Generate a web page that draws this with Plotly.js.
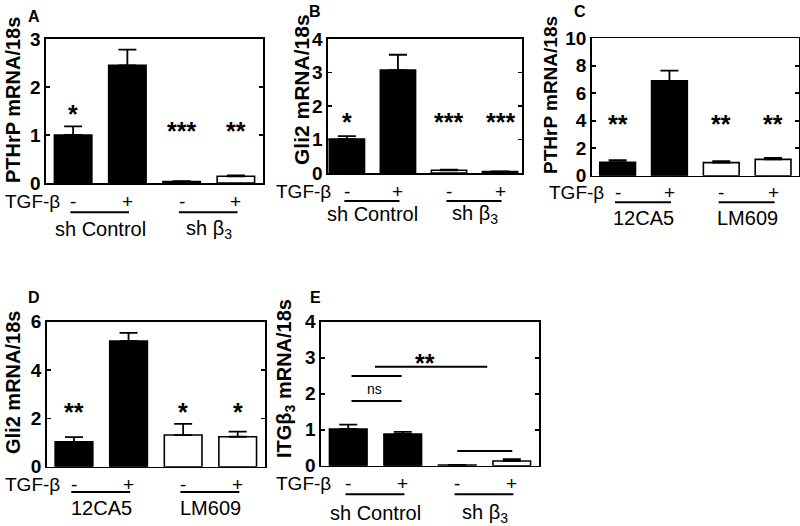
<!DOCTYPE html>
<html>
<head>
<meta charset="utf-8">
<script src="https://cdn.plot.ly/plotly-3.0.1.min.js"></script>
<style>html,body{margin:0;padding:0;background:#fff;}#chart{width:800px;height:526px;}</style>
</head>
<body>
<div id="chart"></div>
<script>
// ---------- DATA ----------
const barX = [0, 1, 2, 3];
const tgfSigns = ['-', '+', '-', '+'];

const groupsShRNA = ['sh Control', 'sh β<sub>3</sub>'];
const groupsAntibody = ['12CA5', 'LM609'];

const A_vals = [1.00, 2.45, 0.03, 0.14];
const A_err  = [0.18, 0.33, 0.01, 0.02];
const A_stars = ['*', '', '***', '**'];
const A_starY = [1.44, null, 1.09, 1.09];

const B_vals = [1.01, 3.07, 0.08, 0.04];
const B_err  = [0.09, 0.46, 0.02, 0.01];
const B_stars = ['*', '', '***', '***'];
const B_starY = [1.52, null, 1.52, 1.52];

const C_vals = [0.98, 6.90, 0.95, 1.19];
const C_err  = [0.15, 0.75, 0.10, 0.10];
const C_stars = ['**', '', '**', '**'];
const C_starY = [3.75, null, 3.75, 3.75];

const D_vals = [1.03, 5.20, 1.31, 1.24];
const D_err  = [0.19, 0.34, 0.46, 0.21];
const D_stars = ['**', '', '*', '*'];
const D_starY = [2.27, null, 2.27, 2.27];

const E_vals = [1.02, 0.88, 0.02, 0.13];
const E_err  = [0.12, 0.06, 0.005, 0.05];
// significance brackets in panel E: [x0, x1, y]
const E_brackets = [[0.06, 0.98, 2.49], [0.06, 0.98, 1.80], [0.49, 2.55, 2.75], [2.00, 3.01, 0.41]];
const E_bracketLabels = [['ns', 0.49, 2.12], ['**', 1.41, 2.85]];

// ---------- LAYOUT HELPERS ----------
const W = 800, H = 526;
const px = x => x / W;
const py = y => 1 - y / H;
const FONT = 'Liberation Sans, Arial, sans-serif';

const panels = [
  {id: '',  letter: 'A', vals: A_vals, err: A_err, stars: A_stars, starY: A_starY,
   colors: ['black','black','white','white'], title: 'PTHrP mRNA/18s', titleSize: 20, groups: groupsShRNA,
   xdom: [46, 263], ydom: [183, 39], xr: [-0.5, 3.5], yr: [0, 3], dtick: 1,
   titleXY: [13, 100], letterXY: [34, 16], signY: 201.7, lineY: 212.3, groupY: 229, tgfRight: 61},
  {id: '2', letter: 'B', vals: B_vals, err: B_err, stars: B_stars, starY: B_starY,
   colors: ['black','black','white','white'], title: 'Gli2 mRNA/18s', titleSize: 21, groups: groupsShRNA,
   xdom: [328, 522], ydom: [173, 39], xr: [-0.37, 3.43], yr: [0, 4], dtick: 1,
   titleXY: [301, 90], letterXY: [315, 11], signY: 191.7, lineY: 201, groupY: 214, tgfRight: 332},
  {id: '3', letter: 'C', vals: C_vals, err: C_err, stars: C_stars, starY: C_starY,
   colors: ['black','black','white','white'], title: 'PTHrP mRNA/18s', titleSize: 19, groups: groupsAntibody,
   xdom: [591.7, 799], ydom: [175.7, 38.3], xr: [-0.5, 3.5], yr: [0, 10], dtick: 2,
   titleXY: [551, 95], letterXY: [580, 12], signY: 192.7, lineY: 202.3, groupY: 218.3, tgfRight: 605},
  {id: '4', letter: 'D', vals: D_vals, err: D_err, stars: D_stars, starY: D_starY,
   colors: ['black','black','white','white'], title: 'Gli2 mRNA/18s', titleSize: 20, groups: groupsAntibody,
   xdom: [46.7, 265], ydom: [466.7, 321.7], xr: [-0.5, 3.5], yr: [0, 6], dtick: 2,
   titleXY: [13, 383], letterXY: [34, 297], signY: 484.3, lineY: 492, groupY: 508, tgfRight: 61},
  {id: '5', letter: 'E', vals: E_vals, err: E_err, stars: null, starY: null,
   colors: ['black','black','white','white'], title: 'ITGβ<sub>3</sub> mRNA/18s', titleSize: 20, groups: groupsShRNA,
   xdom: [321, 539], ydom: [465.7, 321.7], xr: [-0.5, 3.5], yr: [0, 4], dtick: 1,
   titleXY: [285, 379], letterXY: [315, 297], signY: 483.3, lineY: 494.3, groupY: 513, tgfRight: 332}
];

const data = [];
const layout = {
  width: W, height: H,
  margin: {l: 0, r: 0, t: 0, b: 0},
  paper_bgcolor: 'white', plot_bgcolor: 'white',
  showlegend: false, bargap: 0.31,
  font: {family: FONT, color: 'black'},
  annotations: [], shapes: []
};

panels.forEach(p => {
  const xa = 'x' + p.id, ya = 'y' + p.id;
  data.push({
    type: 'bar', x: barX, y: p.vals, xaxis: xa, yaxis: ya,
    marker: {color: p.colors, line: {color: 'black', width: 1.6}},
    error_y: {type: 'data', symmetric: false, array: p.err, arrayminus: p.err.map(() => 0),
              color: 'black', thickness: 1.8, width: 9},
    hoverinfo: 'skip'
  });
  layout['xaxis' + p.id] = {
    domain: [px(p.xdom[0]), px(p.xdom[1])], range: p.xr, anchor: ya,
    showline: true, mirror: true, linecolor: 'black', linewidth: 1.6,
    ticks: '', showticklabels: false, showgrid: false, zeroline: false, fixedrange: true
  };
  layout['yaxis' + p.id] = {
    domain: [py(p.ydom[0]), py(p.ydom[1])], range: p.yr, anchor: xa, dtick: p.dtick,
    showline: true, mirror: 'ticks', linecolor: 'black', linewidth: 1.6,
    ticks: 'inside', ticklen: 4, tickwidth: 1.6, tickcolor: 'black',
    tickfont: {family: FONT, size: 19, weight: 'bold', color: 'black'},
    ticklabelstandoff: 0,
    showgrid: false, zeroline: false, fixedrange: true
  };
  // y title
  layout.annotations.push({xref: 'paper', yref: 'paper', x: px(p.titleXY[0]), y: py(p.titleXY[1]),
    text: p.title, textangle: -90, showarrow: false, xanchor: 'center', yanchor: 'middle',
    borderpad: 0, font: {family: FONT, size: p.titleSize, weight: 'bold'}});
  // panel letter
  layout.annotations.push({xref: 'paper', yref: 'paper', x: px(p.letterXY[0]), y: py(p.letterXY[1]),
    text: p.letter, showarrow: false, xanchor: 'center', yanchor: 'middle',
    font: {family: FONT, size: 16, weight: 'bold'}});
  // stars
  if (p.stars) {
    p.stars.forEach((s, i) => {
      if (!s) return;
      layout.annotations.push({xref: xa, yref: ya, x: barX[i], y: p.starY[i], text: s,
        showarrow: false, xanchor: 'center', yanchor: 'middle',
        font: {family: FONT, size: 25, weight: 'bold'}});
    });
  }
  // TGF-β row
  layout.annotations.push({xref: 'paper', yref: 'paper', x: px(p.tgfRight), y: py(p.signY),
    text: 'TGF-β', showarrow: false, xanchor: 'right', yanchor: 'middle',
    borderpad: 0, font: {family: FONT, size: 19}});
  tgfSigns.forEach((s, i) => {
    layout.annotations.push({xref: xa, yref: 'paper', x: barX[i], y: py(p.signY), text: s,
      showarrow: false, xanchor: 'center', yanchor: 'middle', font: {family: FONT, size: 19}});
  });
  // group lines and labels
  [[0, 1], [2, 3]].forEach((pair, g) => {
    layout.shapes.push({type: 'line', xref: xa, yref: 'paper',
      x0: barX[pair[0]] - 0.05, x1: barX[pair[1]] + 0.03, y0: py(p.lineY), y1: py(p.lineY),
      line: {color: 'black', width: 2}});
    layout.annotations.push({xref: xa, yref: 'paper', x: (barX[pair[0]] + barX[pair[1]]) / 2,
      y: py(p.groupY), text: p.groups[g], showarrow: false, xanchor: 'center', yanchor: 'middle',
      font: {family: FONT, size: 20}});
  });
});

// panel E brackets
E_brackets.forEach(b => {
  layout.shapes.push({type: 'line', xref: 'x5', yref: 'y5', x0: b[0], x1: b[1], y0: b[2], y1: b[2],
    line: {color: 'black', width: 2}});
});
E_bracketLabels.forEach(l => {
  layout.annotations.push({xref: 'x5', yref: 'y5', x: l[1], y: l[2], text: l[0], showarrow: false,
    xanchor: 'center', yanchor: 'middle',
    font: {family: FONT, size: l[0] === 'ns' ? 14 : 25, weight: l[0] === 'ns' ? 'normal' : 'bold'}});
});

Plotly.newPlot('chart', data, layout, {staticPlot: true, displayModeBar: false});
</script>
</body>
</html>
